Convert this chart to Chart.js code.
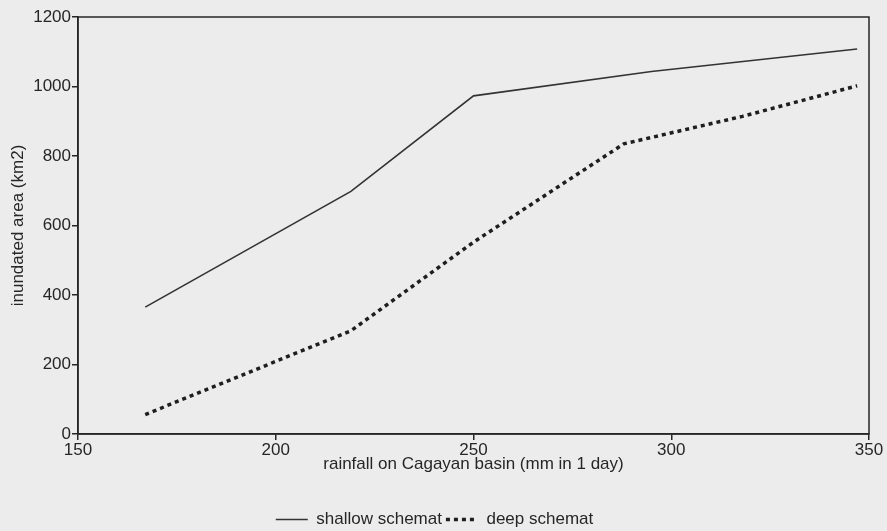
<!DOCTYPE html>
<html>
<head>
<meta charset="utf-8">
<script src="https://cdn.jsdelivr.net/npm/chart.js@4"></script>
<style>
  body { margin: 0; background: #ececec; }
  #wrap { width: 887px; height: 531px; }
</style>
</head>
<body>
<div id="wrap"><canvas id="chart"></canvas></div>
<script>
// rainfall (mm in 1 day) vs inundated area (km2)
const shallowRain = [167, 219, 250, 295, 347];
const shallowArea = [365, 698, 973, 1043, 1108];
const deepRain = [167, 219, 250, 288, 318, 347];
const deepArea = [56, 297, 552, 835, 914, 1002];
const xTicks = [150, 200, 250, 300, 350];
const yTicks = [0, 200, 400, 600, 800, 1000, 1200];

const ink = '#262626';
const font = { family: '"Liberation Sans", Arial, sans-serif', size: 17 };

Chart.defaults.color = ink;
Chart.defaults.font = font;

const toPoints = (xs, ys) => xs.map((x, i) => ({ x, y: ys[i] }));

// box around the plot area
const frame = {
  id: 'frame',
  afterDatasetsDraw(chart) {
    const { ctx, chartArea: a } = chart;
    ctx.save();
    ctx.strokeStyle = ink;
    ctx.lineWidth = 1.5;
    ctx.strokeRect(a.left, a.top, a.right - a.left, a.bottom - a.top);
    ctx.restore();
  }
};

// legend samples keep the dataset's dash pattern
const legendLabels = chart => {
  const items = Chart.defaults.plugins.legend.labels.generateLabels(chart);
  items.forEach(it => {
    const ds = chart.data.datasets[it.datasetIndex];
    it.lineDash = ds.borderDash || [];
    it.lineWidth = ds.borderWidth;
    it.strokeStyle = ds.borderColor;
  });
  return items;
};

new Chart(document.getElementById('chart'), {
  type: 'scatter',
  data: {
    datasets: [{
      label: 'shallow schemat',
      data: toPoints(shallowRain, shallowArea),
      showLine: true,
      borderColor: '#333',
      borderWidth: 1.6,
      pointRadius: 0,
      pointStyle: 'line'
    }, {
      label: 'deep schemat',
      data: toPoints(deepRain, deepArea),
      showLine: true,
      borderColor: '#1e1e1e',
      borderWidth: 3.5,
      borderDash: [4, 4],
      pointRadius: 0,
      pointStyle: 'line'
    }]
  },
  options: {
    responsive: true,
    maintainAspectRatio: false,
    animation: false,
    layout: { padding: { top: 17, right: 18, bottom: -7, left: 0 } },
    plugins: {
      tooltip: { enabled: false },
      legend: {
        position: 'bottom',
        labels: {
          usePointStyle: true,
          pointStyleWidth: 32,
          padding: 4,
          color: ink,
          font: { size: 17 },
          generateLabels: legendLabels
        }
      }
    },
    scales: {
      x: {
        type: 'linear',
        min: 150,
        max: 350,
        afterBuildTicks: s => { s.ticks = xTicks.map(v => ({ value: v })); },
        afterFit: s => { s.height = 73; },
        ticks: { padding: 0, maxRotation: 0, callback: v => String(v) },
        grid: { drawOnChartArea: false, tickLength: 6, color: ink, lineWidth: 1.5 },
        border: { color: ink, width: 1.5 },
        title: {
          display: true,
          text: 'rainfall on Cagayan basin (mm in 1 day)',
          padding: { top: 0, bottom: 32 }
        }
      },
      y: {
        min: 0,
        max: 1200,
        afterBuildTicks: s => { s.ticks = yTicks.map(v => ({ value: v })); },
        afterFit: s => { s.width = 78; },
        ticks: { padding: 1, callback: v => String(v) },
        grid: { drawOnChartArea: false, tickLength: 6, color: ink, lineWidth: 1.5 },
        border: { color: ink, width: 1.5 },
        title: {
          display: true,
          text: 'inundated area (km2)',
          padding: { top: 8, bottom: 0 }
        }
      }
    }
  },
  plugins: [frame]
});
</script>
</body>
</html>
